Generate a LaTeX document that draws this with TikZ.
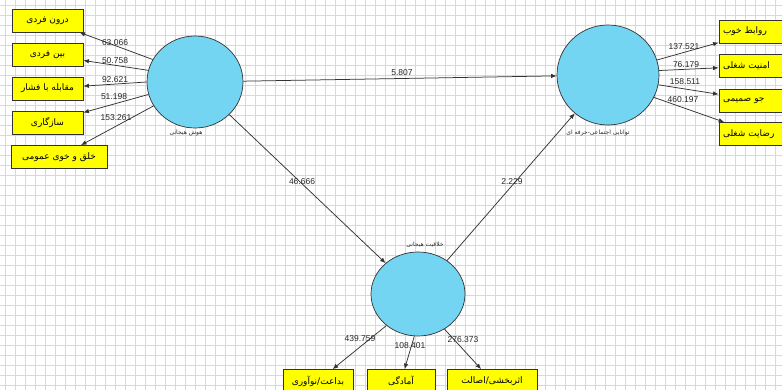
\documentclass[tikz,border=0pt]{standalone}
\usepackage{fontspec}
\setmainfont{Liberation Sans}
\newfontfamily\ar[Script=Arabic]{DejaVu Sans}
\TeXXeTstate=1
\usetikzlibrary{shapes.geometric,arrows.meta}
\definecolor{cyanfill}{HTML}{74D5F3}
\definecolor{boxfill}{HTML}{FFFF00}
\definecolor{gridc}{HTML}{D8D8D8}
\tikzset{
  gridline/.style={draw=gridc,line width=0.5pt},
  latent/.style={ellipse,draw=black!80,line width=0.7pt,fill=cyanfill,inner sep=0pt},
  ybox/.style={rectangle,draw=black!80,line width=0.8pt,fill=boxfill,inner sep=0pt,minimum height=23pt,font=\ar\fontsize{9}{10}\selectfont},
  rbox/.style={ybox,text width=70pt,align=left,inner xsep=4pt},
  arr/.style={draw=black!80,line width=0.75pt,-{Latex[length=5.5pt,width=4.5pt]}},
  val/.style={font=\fontsize{8.5}{9}\selectfont,text=black!85,inner sep=0pt},
  clab/.style={font=\ar\fontsize{6}{7}\selectfont,text=black!85,inner sep=0pt}
}
\begin{document}
\begin{tikzpicture}[x=1pt,y=-1pt]
\useasboundingbox (0,0) rectangle (782,390);
\fill[white] (0,0) rectangle (782,390);
\foreach \gx in {5,15,...,775} \draw[gridline] (\gx,0) -- (\gx,390);
\foreach \gy in {5,15,...,385} \draw[gridline] (0,\gy) -- (782,\gy);

% latent variables
\node[latent,minimum width=96pt,minimum height=92pt] (L) at (195,82) {};
\node[latent,minimum width=102pt,minimum height=100pt] (R) at (608,75) {};
\node[latent,minimum width=94pt,minimum height=84pt] (B) at (418,294) {};

\node[clab] (Llab) at (186,133) {\beginR هوش هیجانی\endR};
\node[clab] (Rlab) at (598,133) {\beginR توانایی اجتماعی-حرفه ای\endR};
\node[clab] (Blab) at (425,245) {\beginR خلاقیت هیجانی\endR};

% left indicators
\node[ybox,minimum width=71pt] (b1) at (47.5,20.5) {\beginR درون فردی\endR};
\node[ybox,minimum width=71pt] (b2) at (47.5,55) {\beginR بین فردی\endR};
\node[ybox,minimum width=71pt] (b3) at (47.5,88.5) {\beginR مقابله با فشار\endR};
\node[ybox,minimum width=71pt] (b4) at (47.5,122.5) {\beginR سازگاری\endR};
\node[ybox,minimum width=96pt] (b5) at (59,157) {\beginR خلق و خوی عمومی\endR};

% right indicators
\node[rbox] (r1) at (758,31.5) {\beginR روابط خوب\endR};
\node[rbox] (r2) at (758,66) {\beginR امنیت شغلی\endR};
\node[rbox] (r3) at (758,100.5) {\beginR جو صمیمی\endR};
\node[rbox] (r4) at (758,134) {\beginR رضایت شغلی\endR};

% bottom indicators
\node[ybox,minimum width=70pt] (d1) at (318,381) {\beginR بداعت/نوآوری\endR};
\node[ybox,minimum width=68pt] (d2) at (401,381) {\beginR آمادگی\endR};
\node[ybox,minimum width=90pt] (d3) at (492,381) {\beginR اثربخشی/اصالت\endR};

% connectors
\draw[arr] (L.152) -- (b1);
\draw[arr] (L.166) -- (b2);
\draw[arr] (L.180) -- (b3);
\draw[arr] (L.195) -- (b4);
\draw[arr] (L.210) -- (b5);

\draw[arr] (R.17) -- (r1);
\draw[arr] (R.5) -- (r2);
\draw[arr] (R.-11) -- (r3);
\draw[arr] (R.-26) -- (r4);

\draw[arr] (B.225) -- (d1);
\draw[arr] (B.265) -- (d2);
\draw[arr] (B.307) -- (d3);

\draw[arr] (L) -- (R);
\draw[arr] (L) -- (B);
\draw[arr] (B) -- (R);

% values
\node[val] (v1) at (115,43) {63.066};
\node[val] (v2) at (115,61) {50.758};
\node[val] (v3) at (115,80) {92.621};
\node[val] (v4) at (114,97) {51.198};
\node[val] (v5) at (116,118) {153.261};

\node[val] (w1) at (684,47) {137.521};
\node[val] (w2) at (686,65) {76.179};
\node[val] (w3) at (685,82) {158.511};
\node[val] (w4) at (683,100) {460.197};

\node[val] (u1) at (360,339) {439.759};
\node[val] (u2) at (410,346) {108.401};
\node[val] (u3) at (463,340) {276.373};

\node[val] (p1) at (402,73) {5.807};
\node[val] (p2) at (302,182) {46.666};
\node[val] (p3) at (512,182) {2.229};
\end{tikzpicture}
\end{document}
